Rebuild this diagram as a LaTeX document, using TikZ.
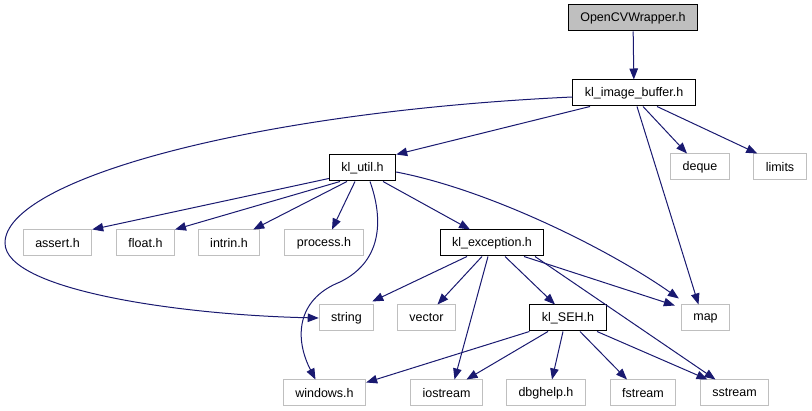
\documentclass[tikz,border=0pt]{standalone}
\usepackage{fontspec}
\setmainfont{Liberation Sans}
\usepackage{tikz}
\usetikzlibrary{arrows.meta,positioning}
\definecolor{edgeblue}{HTML}{191970}
\definecolor{boxgray}{HTML}{BFBFBF}
\tikzstyle{hdr} = [rectangle, minimum height=26pt, inner xsep=12pt, inner ysep=0pt, text centered, font=\fontsize{12.5pt}{14pt}\selectfont, line width=1pt]
\tikzstyle{mainfile} = [hdr, draw=black, fill=boxgray]
\tikzstyle{localhdr} = [hdr, draw=black, fill=white]
\tikzstyle{syshdr} = [hdr, draw=boxgray, fill=white]
\tikzstyle{dep} = [edgeblue, line width=1pt, -{Triangle[length=11pt,width=8.5pt]}]

\begin{document}
\begin{tikzpicture}[x=1pt, y=1pt, node distance=75pt]
\useasboundingbox (0,0) rectangle (812,-411);
\node (top) [mainfile] at (633,-18) {OpenCVWrapper.h};
\node (img) [localhdr, below of=top, xshift=1pt] {kl\_image\_buffer.h};
\node (util) [localhdr, below of=img, xshift=-271.5pt] {kl\_util.h};
\node (deque) [syshdr, below of=img, xshift=66pt, yshift=1pt] {deque};
\node (limits) [syshdr, below of=img, xshift=146pt, yshift=1pt] {limits};
\node (assert) [syshdr, below of=util, xshift=-305pt] {assert.h};
\node (float) [syshdr, below of=util, xshift=-217pt] {float.h};
\node (intrin) [syshdr, below of=util, xshift=-133.5pt] {intrin.h};
\node (process) [syshdr, below of=util, xshift=-38.5pt] {process.h};
\node (exc) [localhdr, below of=util, xshift=129.5pt] {kl\_exception.h};
\node (string) [syshdr, below of=exc, xshift=-145.5pt] {string};
\node (vector) [syshdr, below of=exc, xshift=-65.5pt] {vector};
\node (seh) [localhdr, below of=exc, xshift=76pt] {kl\_SEH.h};
\node (map) [syshdr, below of=exc, xshift=213.5pt] {map};
\node (windows) [syshdr, below of=seh, xshift=-243.5pt] {windows.h};
\node (iostream) [syshdr, below of=seh, xshift=-121.5pt] {iostream};
\node (dbghelp) [syshdr, below of=seh, xshift=-22pt] {dbghelp.h};
\node (fstream) [syshdr, below of=seh, xshift=75pt] {fstream};
\node (sstream) [syshdr, below of=seh, xshift=166.5pt] {sstream};
% kl_image_buffer.h
\draw [dep] (top) -- (img);
\draw [dep] ([xshift=-44pt]img.south) -- (util.north east);
\draw [dep] ([yshift=-4pt]img.west) .. controls (250,-112) and (5,-180) .. (5,-243) .. controls (5,-290) and (180,-315) .. (string.west);
\draw [dep] ([xshift=3pt]img.south) -- ([xshift=-7pt]map.north);
\draw [dep] ([xshift=9pt]img.south) -- ([xshift=-13pt]deque.north);
\draw [dep] ([xshift=23pt]img.south) -- ([xshift=4pt]limits.north west);
% kl_util.h
\draw [dep] ([yshift=3pt]util.south west) -- (assert.north east);
\draw [dep] ([xshift=-22.5pt]util.south) -- (float.north east);
\draw [dep] ([xshift=-15.5pt]util.south) -- ([xshift=-7pt]intrin.north east);
\draw [dep] ([xshift=-7.5pt]util.south) -- ([xshift=8pt]process.north);
\draw [dep] ([xshift=7.5pt]util.south) .. controls (382,-215) and (385,-260) .. (340,-282) .. controls (295,-300) and (295,-340) .. ([xshift=-9pt]windows.north);
\draw [dep] ([xshift=20.5pt]util.south) -- ([xshift=-22pt]exc.north);
\draw [dep] ([yshift=-4pt]util.east) .. controls (490,-190) and (610,-250) .. ([xshift=-2pt,yshift=6pt]map.north west);
% kl_exception.h
\draw [dep] ([xshift=-25pt]exc.south) -- ([xshift=-2pt,yshift=3pt]string.north east);
\draw [dep] ([xshift=-10pt]exc.south) -- ([xshift=11pt]vector.north);
\draw [dep] ([xshift=-4pt]exc.south) -- ([xshift=8pt]iostream.north);
\draw [dep] ([xshift=13pt]exc.south) -- ([xshift=-13pt]seh.north);
\draw [dep] ([xshift=32pt]exc.south) -- ([xshift=-6pt,yshift=-1pt]map.north west);
\draw [dep] ([xshift=43pt]exc.south) -- ([xshift=-19pt]sstream.north);
% kl_SEH.h
\draw [dep] (seh.south west) -- ([yshift=-3pt]windows.north east);
\draw [dep] ([xshift=-20pt]seh.south) -- ([xshift=20pt]iostream.north);
\draw [dep] ([xshift=-5pt]seh.south) -- ([xshift=6pt]dbghelp.north);
\draw [dep] ([xshift=12pt]seh.south) -- ([xshift=-16pt]fstream.north);
\draw [dep] ([xshift=29pt]seh.south) -- ([xshift=-27pt]sstream.north);
\end{tikzpicture}
\end{document}
